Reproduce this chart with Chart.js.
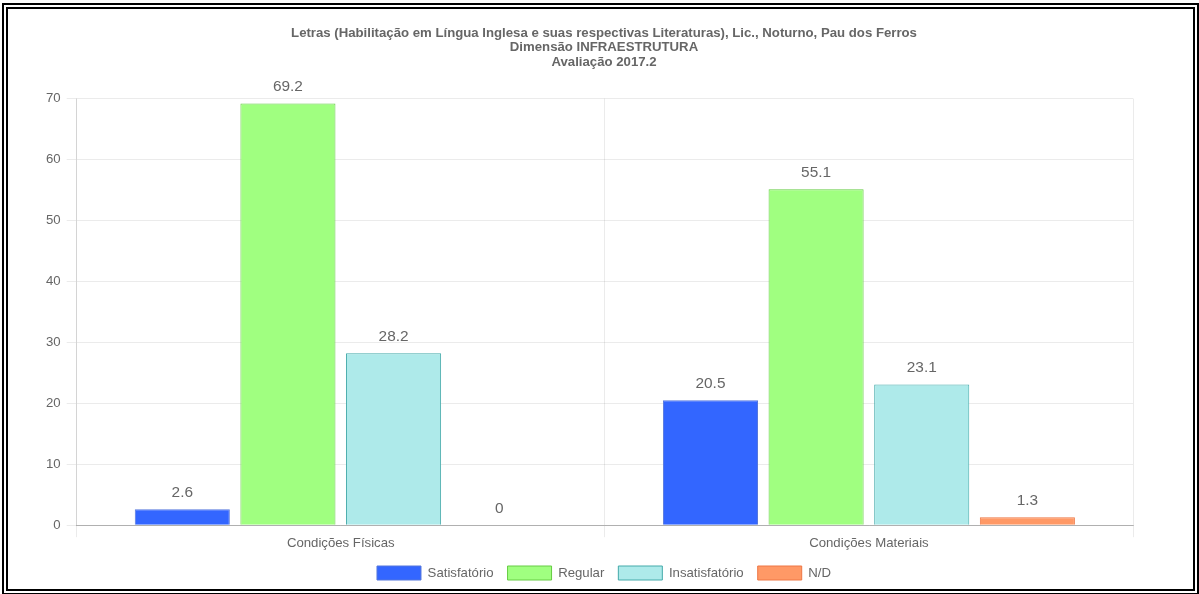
<!DOCTYPE html>
<html>
<head>
<meta charset="utf-8">
<script src="https://cdn.jsdelivr.net/npm/chart.js@4/dist/chart.umd.min.js"></script>
<style>
html,body{margin:0;padding:0;background:#fff;width:1199px;height:594px;overflow:hidden}
#frame{position:absolute;left:2px;top:3px;width:1185px;height:580px;border:6px double #000;background:#fff}
#wrap{position:absolute;left:4px;top:4px;width:1177px;height:577px}
</style>
</head>
<body>
<div id="frame"><div id="wrap"><canvas id="c"></canvas></div></div>
<script>
const titleLines = ['Letras (Habilitação em Língua Inglesa e suas respectivas Literaturas), Lic., Noturno, Pau dos Ferros','Dimensão INFRAESTRUTURA','Avaliação 2017.2'];
const categories = ['Condições Físicas','Condições Materiais'];
const seriesNames = ['Satisfatório','Regular','Insatisfatório','N/D'];
const satisfatorio = [2.6, 20.5];
const regular = [69.2, 55.1];
const insatisfatorio = [28.2, 23.1];
const nd = [0, 1.3];
const fills = ['#3366ff','#a0ff80','#aeeaea','#ff9966'];
const borders = ['#5577dd','#66cc44','#44aaaa','#ee7744'];

const valueLabels = {
  id:'valueLabels',
  afterDatasetsDraw(chart){
    const ctx=chart.ctx;
    ctx.save();
    ctx.font='15.4px "Liberation Sans", Arial, sans-serif';
    ctx.fillStyle='#666';
    ctx.textAlign='center';
    ctx.textBaseline='bottom';
    chart.data.datasets.forEach((ds,i)=>{
      chart.getDatasetMeta(i).data.forEach((el,j)=>{
        ctx.fillText(String(ds.data[j]), el.x, el.y-9);
      });
    });
    ctx.restore();
  }
};

const series=[satisfatorio,regular,insatisfatorio,nd];
Chart.defaults.font.family='"Liberation Sans", Arial, sans-serif';
Chart.defaults.font.size=13.2;
Chart.defaults.color='#666';
new Chart(document.getElementById('c'),{
  type:'bar',
  data:{labels:categories,datasets:series.map((d,i)=>({label:seriesNames[i],data:d,backgroundColor:fills[i],borderColor:borders[i],borderWidth:1}))},
  options:{
    responsive:true,maintainAspectRatio:false,animation:false,
    layout:{padding:{left:28,right:21,top:4,bottom:0}},
    plugins:{
      title:{display:true,text:titleLines,color:'#666',font:{size:13.2,weight:'bold',lineHeight:1.1},padding:{top:9,bottom:29}},
      legend:{position:'bottom',labels:{boxWidth:44,boxHeight:14,color:'#666',padding:14}},
      tooltip:{enabled:false}
    },
    scales:{
      x:{grid:{color:'rgba(0,0,0,0.08)',tickLength:12,offset:true},border:{color:'rgba(0,0,0,0.25)'},ticks:{color:'#666',padding:-2},afterFit(s){s.height+=3}},
      y:{min:0,max:70,ticks:{stepSize:10,color:'#666',padding:6},grid:{color:'rgba(0,0,0,0.08)',tickLength:10},border:{color:'rgba(0,0,0,0.1)'}},
      yr:{position:'right',display:true,grid:{display:false},border:{display:false},ticks:{display:false},afterFit(s){s.width=35}}
    }
  },
  plugins:[valueLabels]
});
</script>
</body>
</html>
